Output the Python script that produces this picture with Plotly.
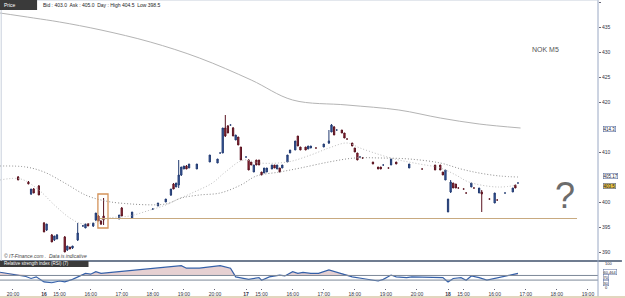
import plotly.graph_objects as go

# ---------------- data ----------------
c_bar = [7, 11, 12, 13, 15, 17, 18, 20, 21, 22, 25, 26, 27, 28, 30, 32, 33, 34, 36, 37, 38, 39, 40,
         46, 47, 51, 59, 61, 64, 66, 67, 68, 69, 70, 71, 72, 73, 76, 81, 84, 85, 86, 87, 88, 89, 90,
         91, 92, 93, 95, 96, 97, 98, 99, 100, 101, 102, 103, 105, 106, 107, 108, 109, 111, 112, 114,
         115, 116, 118, 119, 120, 122, 125, 127, 128, 129, 130, 132, 133, 134, 136, 137, 138, 139,
         140, 144, 146, 147, 148, 150, 151, 153, 158, 163, 168, 170, 171, 172, 173, 174, 175, 176,
         177, 179, 180, 182, 183, 185, 186, 189, 191, 192, 195, 198, 199, 200]
c_open = [405.0, 404.0, 401.6, 402.6, 403.2, 395.8, 394.4, 393.4, 392.4, 392.6, 393.0, 390.4, 391.0,
          390.8, 392.4, 395.2, 394.8, 395.6, 395.2, 396.4, 397.2, 396.2, 397.2, 396.6, 398.8, 396.8,
          398.6, 399.2, 400.0, 401.4, 403.6, 403.0, 403.4, 405.4, 406.6, 407.2, 406.8, 406.6, 408.0,
          407.8, 409.8, 409.8, 414.8, 415.2, 415.4, 414.8, 412.4, 413.0, 411.0, 409.0, 408.4, 408.0,
          406.0, 408.4, 408.4, 406.0, 405.8, 406.0, 406.6, 407.4, 406.6, 406.8, 406.8, 408.0, 409.8,
          410.4, 413.2, 411.0, 411.0, 410.6, 410.8, 410.8, 411.0, 411.8, 414.0, 415.0, 414.4, 414.4,
          413.8, 412.6, 411.8, 410.8, 409.8, 409.0, 408.8, 408.0, 407.0, 407.0, 407.4, 406.8, 407.4,
          408.0, 406.8, 406.6, 407.4, 407.4, 406.0, 404.4, 398.0, 402.0, 403.8, 403.6, 402.8, 402.6,
          401.8, 403.0, 402.8, 401.8, 402.0, 400.6, 399.8, 400.4, 401.8, 402.0, 403.4, 403.8]
c_high = [405.2, 404.2, 402.6, 402.8, 403.4, 396.0, 395.6, 393.6, 393.2, 393.6, 393.2, 391.2, 391.0,
          391.2, 395.8, 395.4, 395.6, 395.8, 395.8, 397.8, 397.4, 396.4, 400.8, 397.4, 399.0, 398.0,
          398.6, 399.8, 400.6, 402.6, 403.8, 403.8, 408.4, 407.0, 407.2, 407.4, 407.6, 407.6, 409.4,
          408.6, 409.8, 414.8, 417.4, 415.4, 415.4, 415.0, 413.4, 413.0, 411.0, 409.0, 408.6, 408.0,
          407.4, 408.4, 408.4, 406.0, 406.8, 406.8, 407.4, 407.4, 407.4, 406.8, 407.4, 409.4, 410.4,
          412.2, 413.2, 411.0, 411.0, 411.2, 411.2, 410.8, 411.6, 414.4, 415.6, 415.2, 414.4, 414.4,
          413.8, 412.6, 411.8, 410.8, 409.8, 409.0, 408.8, 408.0, 407.0, 407.0, 407.4, 406.8, 408.6,
          408.0, 407.6, 406.6, 407.4, 407.4, 406.0, 406.4, 400.6, 404.4, 403.8, 403.6, 402.8, 402.6,
          401.8, 403.8, 402.8, 402.8, 402.4, 400.6, 401.8, 400.4, 401.8, 402.8, 403.4, 403.8]
c_low = [404.4, 403.6, 401.4, 401.8, 401.4, 394.0, 394.2, 392.0, 392.2, 392.6, 390.0, 390.2, 390.6,
         390.6, 392.2, 395.2, 394.8, 395.2, 395.0, 396.2, 396.2, 395.4, 395.4, 396.6, 397.2, 396.8,
         398.6, 399.2, 400.0, 401.2, 402.6, 403.0, 402.8, 405.2, 406.6, 406.6, 406.8, 406.6, 408.0,
         407.8, 409.8, 409.8, 413.0, 413.8, 415.4, 413.2, 412.4, 411.4, 408.4, 409.0, 406.4, 407.4,
         406.0, 407.4, 407.4, 405.4, 405.8, 406.0, 406.6, 406.8, 406.6, 406.0, 406.8, 408.0, 409.8,
         410.4, 411.2, 410.4, 410.4, 410.6, 410.8, 410.8, 411.0, 411.6, 414.0, 413.4, 414.4, 413.8,
         412.8, 412.6, 411.2, 410.0, 408.4, 409.0, 408.8, 407.6, 406.6, 406.6, 407.4, 406.8, 407.4,
         407.6, 406.8, 406.6, 406.4, 406.4, 405.4, 404.4, 398.0, 401.8, 402.8, 402.8, 402.8, 402.6,
         401.8, 403.0, 402.8, 401.8, 398.0, 400.6, 399.8, 400.4, 401.8, 402.0, 402.8, 403.8]
c_close = [404.4, 403.6, 402.6, 401.8, 401.4, 394.0, 395.6, 392.0, 393.2, 393.4, 390.0, 391.2, 390.6,
           391.2, 393.8, 395.2, 395.6, 395.2, 395.8, 397.8, 396.2, 395.6, 396.4, 397.4, 397.2, 398.0,
           398.6, 399.8, 400.6, 402.6, 402.6, 403.8, 405.4, 407.0, 407.2, 406.6, 407.6, 407.6, 409.4,
           408.6, 409.8, 414.8, 413.2, 413.8, 415.4, 413.2, 413.4, 411.4, 408.4, 409.0, 406.4, 407.4,
           407.4, 407.4, 407.4, 405.4, 406.8, 406.8, 407.4, 406.8, 407.4, 406.0, 407.4, 409.4, 410.4,
           412.2, 411.2, 410.4, 410.4, 411.2, 411.2, 410.8, 411.6, 412.2, 415.4, 413.4, 414.4, 413.8,
           412.8, 412.6, 411.2, 410.0, 408.4, 409.0, 408.8, 407.6, 406.6, 406.6, 407.4, 406.8, 408.6,
           407.6, 407.6, 406.6, 406.4, 406.4, 405.4, 406.4, 400.6, 404.0, 402.8, 402.8, 402.8, 402.6,
           401.8, 403.8, 402.8, 402.8, 401.6, 400.6, 401.8, 400.4, 401.8, 402.8, 402.8, 403.8]

# moving averages (bar, price knots)
ma_slow_bar = [0, 13, 23, 39, 58, 77, 97, 113, 134, 154, 170, 185, 201]
ma_slow_val = [437.8, 436.8, 436.0, 434.4, 432.0, 428.8, 424.4, 420.4, 419.4, 418.4, 416.8, 415.6, 414.8]

ma_mid_bar = [0, 10, 17, 25, 33, 39, 46, 64, 70, 77, 85, 93, 99, 108, 116, 127, 137, 147, 158, 170,
              178, 185, 193, 200]
ma_mid_val = [407.2, 407.0, 406.0, 403.8, 401.4, 400.4, 399.8, 399.6, 400.8, 401.4, 401.8, 403.4,
              405.2, 406.0, 406.8, 408.0, 408.8, 408.8, 408.6, 407.8, 406.6, 405.8, 405.2, 405.0]

ma_fast_bar = [0, 8, 15, 21, 27, 32, 37, 42, 50, 58, 64, 68, 75, 82, 87, 94, 100, 111, 120, 127, 134,
               139, 147, 154, 162, 170, 176, 181, 192, 200]
ma_fast_val = [404.4, 404.6, 402.4, 399.4, 396.8, 395.6, 396.0, 396.8, 397.2, 398.4, 399.4, 400.4,
               402.0, 403.8, 406.0, 408.4, 407.8, 408.0, 409.4, 410.8, 411.8, 410.8, 409.4, 408.4,
               407.6, 406.8, 405.4, 404.0, 403.0, 403.4]

rsi_bar = [0, 10, 12, 14, 17, 20, 23, 25, 28, 30, 33, 35, 37, 39, 46, 58, 70, 72, 77, 85, 89, 91, 93,
           96, 100, 101, 104, 108, 110, 113, 115, 117, 120, 123, 127, 130, 132, 136, 140, 146, 148,
           151, 153, 157, 159, 167, 171, 173, 175, 178, 180, 182, 185, 188, 192, 194, 197, 200]
rsi_val = [64, 45.5, 37, 44, 22, 18.5, 26, 22, 33, 44, 59, 55.5, 66.6, 59, 66.6, 77.7, 92.5, 81.4,
           81.4, 92.5, 81.4, 44, 40.7, 33.3, 40.7, 29.6, 44, 51.8, 48, 66.6, 59, 63, 59, 59, 74, 63,
           59, 44, 37, 26, 33, 51.8, 44, 40.7, 44, 40.7, 40.7, 22, 37, 40.7, 29.6, 48, 40.7, 29.6,
           40.7, 44, 51.8, 59]
rsi_levels = [50, 30]

tick_bars = [5, 17, 23, 35, 47, 59, 71, 83, 95, 101, 113, 125, 137, 149, 161, 173, 179, 191, 203, 215, 227]
tick_text = ["20:00", "<b>16</b>", "15:00", "16:00", "17:00", "18:00", "19:00", "20:00", "<b>17</b>",
             "15:00", "16:00", "17:00", "18:00", "19:00", "20:00", "<b>18</b>", "15:00", "16:00",
             "17:00", "18:00", "19:00"]
price_ticks = [390, 395, 400, 410, 420, 425, 430, 435, 440]

box_bars = [37.8, 41.7]
box_prices = [394.8, 401.6]
support_price = 396.7
support_bars = [38.6, 222.8]

# ---------------- figure ----------------
FONT = "Liberation Sans, Arial, sans-serif"
fig = go.Figure()

fig.add_trace(go.Scatter(x=ma_slow_bar, y=ma_slow_val, mode="lines", line=dict(color="#b4b4b4", width=1, shape="spline"),
                         hoverinfo="skip", xaxis="x", yaxis="y"))
fig.add_trace(go.Scatter(x=ma_mid_bar, y=ma_mid_val, mode="lines", line=dict(color="#8c8c8c", width=1, dash="1px,2px", shape="spline"),
                         hoverinfo="skip", xaxis="x", yaxis="y"))
fig.add_trace(go.Scatter(x=ma_fast_bar, y=ma_fast_val, mode="lines", line=dict(color="#bdbdbd", width=1, dash="1px,2px", shape="spline"),
                         hoverinfo="skip", xaxis="x", yaxis="y"))

fig.add_trace(go.Candlestick(
    x=c_bar, open=c_open, high=c_high, low=c_low, close=c_close,
    increasing=dict(line=dict(color="#223a70", width=1), fillcolor="#3a5fb0"),
    decreasing=dict(line=dict(color="#5a1420", width=1), fillcolor="#a8243c"),
    whiskerwidth=0, xaxis="x", yaxis="y"))

# RSI
base = [rsi_levels[0]] * len(rsi_bar)
above = [max(v, rsi_levels[0]) for v in rsi_val]
low_base = [rsi_levels[1]] * len(rsi_bar)
below = [min(v, rsi_levels[1]) for v in rsi_val]
fig.add_trace(go.Scatter(x=rsi_bar, y=base, mode="lines", line=dict(width=0), hoverinfo="skip", xaxis="x", yaxis="y2"))
fig.add_trace(go.Scatter(x=rsi_bar, y=above, mode="lines", line=dict(width=0), fill="tonexty",
                         fillcolor="rgba(200,150,155,0.45)", hoverinfo="skip", xaxis="x", yaxis="y2"))
fig.add_trace(go.Scatter(x=rsi_bar, y=low_base, mode="lines", line=dict(width=0), hoverinfo="skip", xaxis="x", yaxis="y2"))
fig.add_trace(go.Scatter(x=rsi_bar, y=below, mode="lines", line=dict(width=0), fill="tonexty",
                         fillcolor="rgba(150,185,225,0.5)", hoverinfo="skip", xaxis="x", yaxis="y2"))
fig.add_trace(go.Scatter(x=rsi_bar, y=rsi_val, mode="lines", line=dict(color="#3560a8", width=1.2),
                         hoverinfo="skip", xaxis="x", yaxis="y2"))

SEP = 0.094
shapes = []
shapes.append(dict(type="rect", xref="x", yref="y", x0=box_bars[0], x1=box_bars[1], y0=box_prices[0], y1=box_prices[1],
                   line=dict(color="#d4935a", width=1.3)))
shapes.append(dict(type="line", xref="x", yref="y", x0=support_bars[0], x1=support_bars[1], y0=support_price, y1=support_price,
                   line=dict(color="#c8aa80", width=1.2)))
for lv in rsi_levels:
    shapes.append(dict(type="line", xref="paper", yref="y2", x0=0, x1=1, y0=lv, y1=lv, line=dict(color="#7d8898", width=1)))
shapes.append(dict(type="line", xref="paper", yref="paper", x0=0, x1=1.04, y0=SEP, y1=SEP, line=dict(color="#6f7c90", width=2)))
shapes.append(dict(type="line", xref="paper", yref="paper", x0=1, x1=1, y0=-0.03, y1=1, line=dict(color="#9aa8c4", width=1)))
shapes.append(dict(type="line", xref="paper", yref="paper", x0=0.002, x1=0.002, y0=SEP, y1=1, line=dict(color="#c8d0dc", width=1)))
shapes.append(dict(type="line", xref="paper", yref="paper", x0=0, x1=1, y0=1, y1=1, line=dict(color="#c8d0dc", width=1)))
shapes.append(dict(type="line", xref="paper", yref="paper", x0=0, x1=1.05, y0=-0.031, y1=-0.031, line=dict(color="#d8c8a8", width=1.5)))
shapes.append(dict(type="rect", xref="paper", yref="paper", x0=0, x1=0.062, y0=0.965, y1=1.0, fillcolor="#3a3a3a", line=dict(width=0)))
shapes.append(dict(type="rect", xref="paper", yref="paper", x0=0, x1=0.148, y0=0.073, y1=SEP, fillcolor="#3a3a3a", line=dict(width=0)))

ann = []
ann.append(dict(xref="paper", yref="paper", x=0.003, y=0.982, text="Price", showarrow=False, xanchor="left", yanchor="middle",
                font=dict(family=FONT, size=5, color="white")))
ann.append(dict(xref="paper", yref="paper", x=0.068, y=0.982, text="Bid : 403.0  Ask : 405.0  Day : High 404.5  Low 398.5",
                showarrow=False, xanchor="left", yanchor="middle", font=dict(family=FONT, size=5, color="#222")))
ann.append(dict(xref="paper", yref="paper", x=0.003, y=0.0835, text="Relative strength index (RSI) (7)", showarrow=False,
                xanchor="left", yanchor="middle", font=dict(family=FONT, size=4.5, color="white")))
ann.append(dict(xref="paper", yref="paper", x=0.003, y=0.111, text="<i>© IT-Finance.com .  Data is indicative</i>", showarrow=False,
                xanchor="left", yanchor="middle", font=dict(family=FONT, size=5, color="#444")))
ann.append(dict(xref="x", yref="y", x=204.5, y=430.6, text="NOK M5", showarrow=False, xanchor="left", yanchor="middle",
                font=dict(family=FONT, size=7, color="#555")))
ann.append(dict(xref="x", yref="y", x=218, y=401.4, text="?", showarrow=False, xanchor="center", yanchor="middle",
                font=dict(family=FONT, size=36, color="#6c6c6c")))
for txt, yy, bg in [("414.3", ma_slow_val[-1] - 0.2, "white"), ("405.17", ma_mid_val[-1] + 0.3, "white"), ("403.5", c_close[-1] - 0.5, "#e8c040")]:
    ann.append(dict(xref="paper", yref="y", x=1.008, y=yy, text=txt, showarrow=False, xanchor="left", yanchor="middle",
                    font=dict(family=FONT, size=4.5, color="#223"), bgcolor=bg, bordercolor="#5a6fa0", borderwidth=0.6, borderpad=0))
for txt, yy, boxed in [("100", 100, False), ("60.464", 66, True), ("70", 42, True), ("30", 19, True), ("0", -2, False)]:
    a = dict(xref="paper", yref="y2", x=1.008, y=yy, text=txt, showarrow=False, xanchor="left", yanchor="middle",
             font=dict(family=FONT, size=4, color="#223"))
    if boxed:
        a.update(bordercolor="#5a6fa0", borderwidth=0.5, borderpad=0, bgcolor="white")
    ann.append(a)

fig.update_layout(
    width=625, height=298,
    margin=dict(l=0, r=27, t=0, b=10, autoexpand=False),
    paper_bgcolor="white", plot_bgcolor="white",
    showlegend=False,
    xaxis=dict(range=[0, 230.9], anchor="y2", tickmode="array", tickvals=tick_bars, ticktext=tick_text,
               ticks="outside", ticklen=1, tickcolor="#667", tickfont=dict(family=FONT, size=5, color="#334"),
               showgrid=False, zeroline=False, showline=False, rangeslider=dict(visible=False), automargin=False),
    yaxis=dict(domain=[0.1007, 1.0], range=[388.6, 440.4], side="right", tickmode="array", tickvals=price_ticks,
               ticks="outside", ticklen=2, tickcolor="#667", tickfont=dict(family=FONT, size=5, color="#334"),
               showgrid=False, zeroline=False, showline=False, automargin=False),
    yaxis2=dict(domain=[0.0, SEP], range=[-4.3, 113], side="right", showticklabels=False, ticks="",
                showgrid=False, zeroline=False, showline=False, automargin=False),
    shapes=shapes, annotations=ann,
)

fig.write_html("out.html")
